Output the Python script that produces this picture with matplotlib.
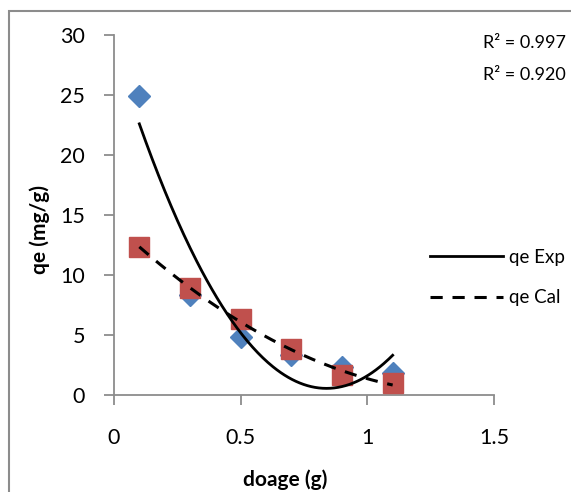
import numpy as np
import matplotlib.pyplot as plt
from matplotlib.lines import Line2D

# data
dose = [0.1, 0.3, 0.5, 0.7, 0.9, 1.1]
qe_exp = [24.9, 8.3, 4.8, 3.3, 2.3, 1.8]
qe_cal = [12.3, 8.9, 6.3, 3.8, 1.7, 1.0]
r2_labels = ["R² = 0.997", "R² = 0.920"]

plt.rcParams['font.family'] = ['Lato', 'DejaVu Sans']

fig = plt.figure(figsize=(5.71, 4.92), dpi=100)
ax = fig.add_axes([114/571, 97/492, 380/571, 360/492])

blue = '#4F81BD'
red = '#C0504D'
grey = '#8C8C8C'

ax.plot(dose, qe_exp, linestyle='none', marker='D', markersize=11, color=blue, zorder=3)
ax.plot(dose, qe_cal, linestyle='none', marker='s', markersize=14, color=red, zorder=4)

# polynomial trendlines (order 2)
xs = np.linspace(min(dose), max(dose), 200)
p_exp = np.polyfit(dose, qe_exp, 2)
p_cal = np.polyfit(dose, qe_cal, 2)
ax.plot(xs, np.polyval(p_exp, xs), color='black', lw=2, zorder=5)
ax.plot(xs, np.polyval(p_cal, xs), color='black', lw=2.2, dashes=(4, 3.2), zorder=5)

ax.set_xlim(0, 1.5)
ax.set_ylim(0, 30)
ax.set_xticks([0, 0.5, 1, 1.5])
ax.set_xticklabels(['0', '0.5', '1', '1.5'])
ax.set_yticks(range(0, 31, 5))

for s in ['top', 'right']:
    ax.spines[s].set_visible(False)
for s in ['left', 'bottom']:
    ax.spines[s].set_color(grey)
    ax.spines[s].set_linewidth(1.3)
ax.tick_params(axis='both', colors=grey, labelcolor='black', labelsize=15.5,
               length=7, width=1.3, direction='out')
ax.tick_params(axis='x', pad=17)
ax.tick_params(axis='y', pad=14)

fig.text(40/571, 1 - 230/492, 'qe (mg/g)', rotation=90, ha='center', va='center',
         fontsize=15, fontweight='bold')
fig.text(285/571, 1 - 480/492, 'doage (g)', ha='center', va='center',
         fontsize=15, fontweight='bold')

fig.text(566/571, 1 - 43/492, r2_labels[0], ha='right', va='center', fontsize=13)
fig.text(566/571, 1 - 75/492, r2_labels[1], ha='right', va='center', fontsize=13)

handles = [Line2D([], [], color='black', lw=2),
           Line2D([], [], color='black', lw=2.2, dashes=(4, 3.2))]
fig.legend(handles, ['qe Exp', 'qe Cal'], loc='upper left',
           bbox_to_anchor=(413/571, 1 - 232/492), frameon=False, fontsize=13.5,
           handlelength=3.9, handletextpad=0.3, labelspacing=1.25)

# outer chart border (right and bottom fall outside the image)
border = plt.Rectangle((9/571, -0.1), 1.2, 1 - 11/492 + 0.1, transform=fig.transFigure,
                       fill=False, edgecolor=grey, lw=1.5)
fig.add_artist(border)

fig.savefig('out.png', dpi=100)
